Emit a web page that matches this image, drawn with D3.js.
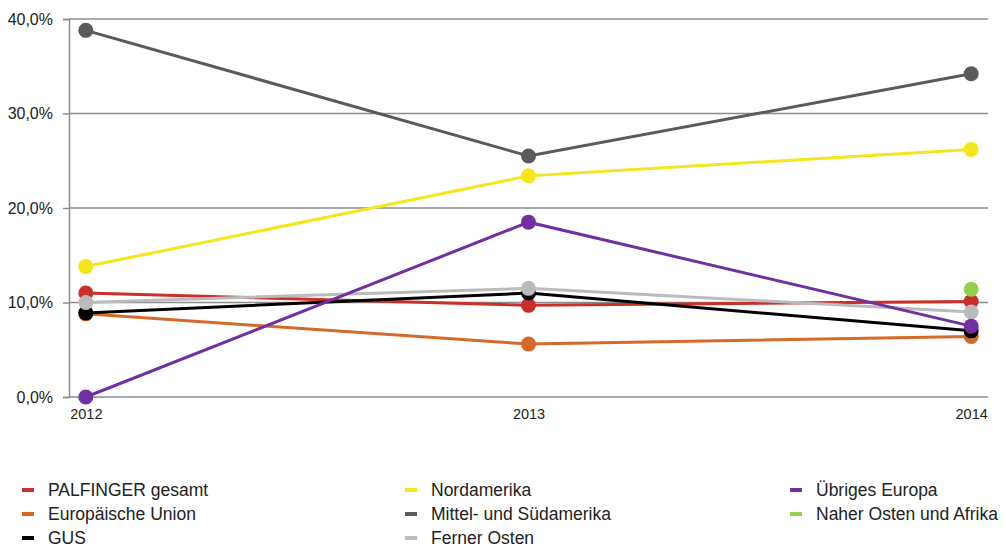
<!DOCTYPE html>
<html>
<head>
<meta charset="utf-8">
<script src="https://cdn.jsdelivr.net/npm/d3@7"></script>
<style>
  body { margin: 0; background: #fff; }
  svg { font-family: "Liberation Sans", Arial, sans-serif; }
</style>
</head>
<body>
<div id="chart"></div>
<script>
// chart data
const years = ["2012", "2013", "2014"];
const seriesNames = ["PALFINGER gesamt", "Europäische Union", "GUS", "Nordamerika",
  "Mittel- und Südamerika", "Ferner Osten", "Übriges Europa", "Naher Osten und Afrika"];
const palfinger = [11.0, 9.7, 10.1];
const eu = [8.8, 5.6, 6.4];
const gus = [8.9, 11.0, 7.0];
const nordamerika = [13.8, 23.4, 26.2];
const suedamerika = [38.8, 25.5, 34.2];
const fernerOsten = [10.0, 11.5, 9.0];
const uebrigesEuropa = [0.0, 18.5, 7.5];
const naherOsten = [null, null, 11.4];
const yTicks = [0, 10, 20, 30, 40];

const colors = ["#c8302a", "#d4692a", "#000000", "#f5e51b", "#5a5a5a", "#bbbbbb", "#7030a0", "#92d050"];
const allValues = [palfinger, eu, gus, nordamerika, suedamerika, fernerOsten, uebrigesEuropa, naherOsten];

const series = seriesNames.map((name, i) => ({
  name: name,
  color: colors[i],
  values: years.map((y, j) => ({ year: y, value: allValues[i][j] }))
}));

const width = 1006, height = 549;
const margin = { left: 69, right: 18, top: 19, bottom: 152 };

const svg = d3.select("#chart").append("svg")
  .attr("width", width)
  .attr("height", height);

const x = d3.scalePoint()
  .domain(years)
  .range([margin.left, width - margin.right])
  .padding(0.038);

const y = d3.scaleLinear()
  .domain([0, 40])
  .range([height - margin.bottom, margin.top]);

// grid lines
svg.append("g")
  .selectAll("line")
  .data(yTicks)
  .enter().append("line")
    .attr("x1", margin.left)
    .attr("x2", width - margin.right)
    .attr("y1", d => y(d))
    .attr("y2", d => y(d))
    .attr("stroke", "#8c8c8c")
    .attr("stroke-width", 1.5);

// y axis
const yAxis = svg.append("g")
  .attr("transform", `translate(${margin.left},0)`)
  .call(d3.axisLeft(y).tickValues(yTicks).tickSize(6).tickPadding(10)
    .tickFormat(d => d3.format(".1f")(d).replace(".", ",") + "%"));
yAxis.select(".domain").attr("stroke", "#8c8c8c").attr("stroke-width", 1.5);
yAxis.selectAll(".tick line").attr("stroke", "#8c8c8c").attr("stroke-width", 1.5);
yAxis.selectAll("text").attr("font-size", 16).attr("fill", "#222")
  .attr("font-family", "Liberation Sans, Arial, sans-serif");

// x axis labels
const xAxis = svg.append("g")
  .attr("transform", `translate(0,${height - margin.bottom})`)
  .call(d3.axisBottom(x).tickSize(0).tickPadding(12));
xAxis.select(".domain").remove();
xAxis.selectAll("text").attr("font-size", 14.5).attr("fill", "#222")
  .attr("font-family", "Liberation Sans, Arial, sans-serif");

// lines and dots
const line = d3.line()
  .defined(d => d.value !== null)
  .x(d => x(d.year))
  .y(d => y(d.value));

series.forEach(s => {
  const g = svg.append("g");
  g.append("path")
    .datum(s.values)
    .attr("fill", "none")
    .attr("stroke", s.color)
    .attr("stroke-width", 3)
    .attr("d", line);
  g.selectAll("circle")
    .data(s.values.filter(d => d.value !== null))
    .enter().append("circle")
      .attr("cx", d => x(d.year))
      .attr("cy", d => y(d.value))
      .attr("r", 7.5)
      .attr("fill", s.color);
});

// legend
const legendCols = [22, 405, 790];
const legendRows = [490, 514, 538];

const legend = svg.append("g");
series.forEach((s, k) => {
  const col = Math.floor(k / 3), row = k % 3;
  const lg = legend.append("g")
    .attr("transform", `translate(${legendCols[col]},${legendRows[row]})`);
  lg.append("rect")
    .attr("x", 0).attr("y", -2)
    .attr("width", 12).attr("height", 4)
    .attr("fill", s.color);
  lg.append("text")
    .attr("x", 26).attr("y", 0)
    .attr("dy", "0.35em")
    .attr("font-size", 17.5)
    .attr("fill", "#222")
    .text(s.name);
});
</script>
</body>
</html>
